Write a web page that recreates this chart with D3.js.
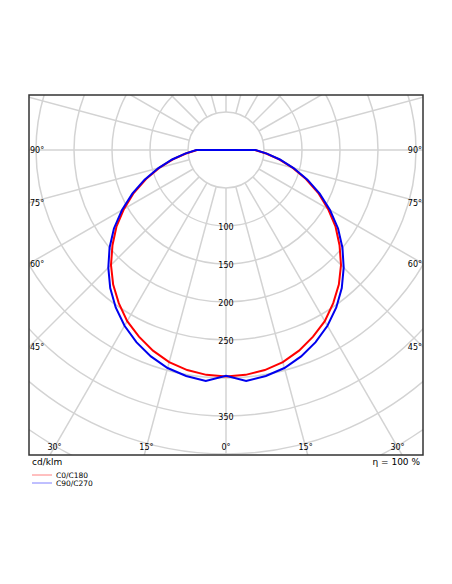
<!DOCTYPE html>
<html><head><meta charset="utf-8">
<script src="https://cdn.jsdelivr.net/npm/d3@7"></script>
<style>body{margin:0;background:#fff}</style>
</head><body>
<svg id="chart" width="452" height="584"></svg>
<script>
// gamma angles (deg) and intensities in cd/klm
const gammas = [0, 5, 10, 15, 20, 25, 30, 35, 40, 45, 50, 55, 60, 65, 70, 75, 80, 85, 90];
const c0c180 = [298, 297, 294, 289, 281, 271, 260, 246, 231, 214, 195, 176, 155, 134, 112, 91, 71, 53, 38];
const c90c270 = [297, 305, 302, 297, 289, 279, 267, 253, 237, 219, 200, 180, 158, 136, 114, 92, 72, 54, 39];
const ringValues = [50, 100, 150, 200, 250, 300, 350, 400, 450, 500, 550, 600];
const ringLabels = [100, 150, 200, 250, 350];
const sideLabels = [90, 75, 60, 45];
const bottomLabels = [30, 15, 0, 15, 30];

const svg = d3.select("#chart");
const frame = {x: 29, y: 95, w: 394, h: 360};
const cx = 226, cy = 150;
const r = d3.scaleLinear().domain([0, 100]).range([0, 76]);

svg.append("defs").append("clipPath").attr("id", "frame-clip")
    .append("rect").attr("x", frame.x).attr("y", frame.y).attr("width", frame.w).attr("height", frame.h);

const g = svg.append("g").attr("clip-path", "url(#frame-clip)");

// rings
g.selectAll("circle.ring").data(ringValues).enter().append("circle")
    .attr("cx", cx).attr("cy", cy).attr("r", d => r(d))
    .attr("fill", "none").attr("stroke", "#d3d3d3").attr("stroke-width", 1.5);

// radial lines every 15 deg
const spokes = d3.range(0, 360, 15);
g.selectAll("line.spoke").data(spokes).enter().append("line")
    .attr("x1", d => cx + r(50) * Math.sin(d * Math.PI / 180))
    .attr("y1", d => cy + r(50) * Math.cos(d * Math.PI / 180))
    .attr("x2", d => cx + r(1000) * Math.sin(d * Math.PI / 180))
    .attr("y2", d => cy + r(1000) * Math.cos(d * Math.PI / 180))
    .attr("stroke", "#d3d3d3").attr("stroke-width", 1.5);

// ring labels
svg.selectAll("text.ring").data(ringLabels).enter().append("text")
    .attr("x", cx).attr("y", d => cy + r(d) + 3.5)
    .attr("text-anchor", "middle").attr("font-family", "DejaVu Sans").attr("font-size", 8)
    .text(d => d);

// curves: full polar from -90 through 0 to 90, then back to center
function curvePoints(vals) {
    const pts = [];
    for (let i = gammas.length - 1; i >= 0; i--) pts.push([-gammas[i], vals[i]]);
    for (let i = 1; i < gammas.length; i++) pts.push([gammas[i], vals[i]]);
    return pts;
}
const line = d3.line()
    .x(d => cx + r(d[1]) * Math.sin(d[0] * Math.PI / 180))
    .y(d => cy + r(d[1]) * Math.cos(d[0] * Math.PI / 180));

g.append("path").datum(curvePoints(c0c180)).attr("d", d => line(d) + "Z")
    .attr("fill", "none").attr("stroke", "#ff0000").attr("stroke-width", 2);
g.append("path").datum(curvePoints(c90c270)).attr("d", d => line(d) + "Z")
    .attr("fill", "none").attr("stroke", "#0000ee").attr("stroke-width", 2);

// frame
svg.append("rect").attr("x", frame.x).attr("y", frame.y).attr("width", frame.w).attr("height", frame.h)
    .attr("fill", "none").attr("stroke", "#333").attr("stroke-width", 1.5);

const font = {family: "DejaVu Sans", size: 8};
// side angle labels
sideLabels.forEach(a => {
    const dy = (cx - frame.x) / Math.tan(a * Math.PI / 180);
    const y = cy + dy + 3;
    svg.append("text").attr("x", frame.x + 1).attr("y", y).attr("font-family", font.family).attr("font-size", font.size).text(a + "°");
    svg.append("text").attr("x", frame.x + frame.w - 1).attr("y", y).attr("text-anchor", "end")
        .attr("font-family", font.family).attr("font-size", font.size).text(a + "°");
});
// bottom angle labels
const by = 447;
bottomLabels.forEach((a, i) => {
    const sign = i < 2 ? -1 : 1;
    const x = cx + sign * (by - cy) * Math.tan(a * Math.PI / 180);
    svg.append("text").attr("x", x).attr("y", by + 3).attr("text-anchor", "middle")
        .attr("font-family", font.family).attr("font-size", font.size).text(a + "°");
});

svg.append("text").attr("x", 32).attr("y", 465).attr("font-family", font.family).attr("font-size", 9).text("cd/klm");
svg.append("text").attr("x", 420).attr("y", 465).attr("text-anchor", "end").attr("font-family", font.family).attr("font-size", 9).text("η = 100 %");

// legend
const legend = [["C0/C180", "#ff8080"], ["C90/C270", "#8080ff"]];
legend.forEach((d, i) => {
    const y = 475 + i * 8;
    svg.append("line").attr("x1", 32).attr("x2", 52).attr("y1", y).attr("y2", y).attr("stroke", d[1]).attr("stroke-width", 1);
    svg.append("text").attr("x", 56).attr("y", y + 3).attr("font-family", font.family).attr("font-size", 7.5).text(d[0]);
});
</script>
</body></html>
